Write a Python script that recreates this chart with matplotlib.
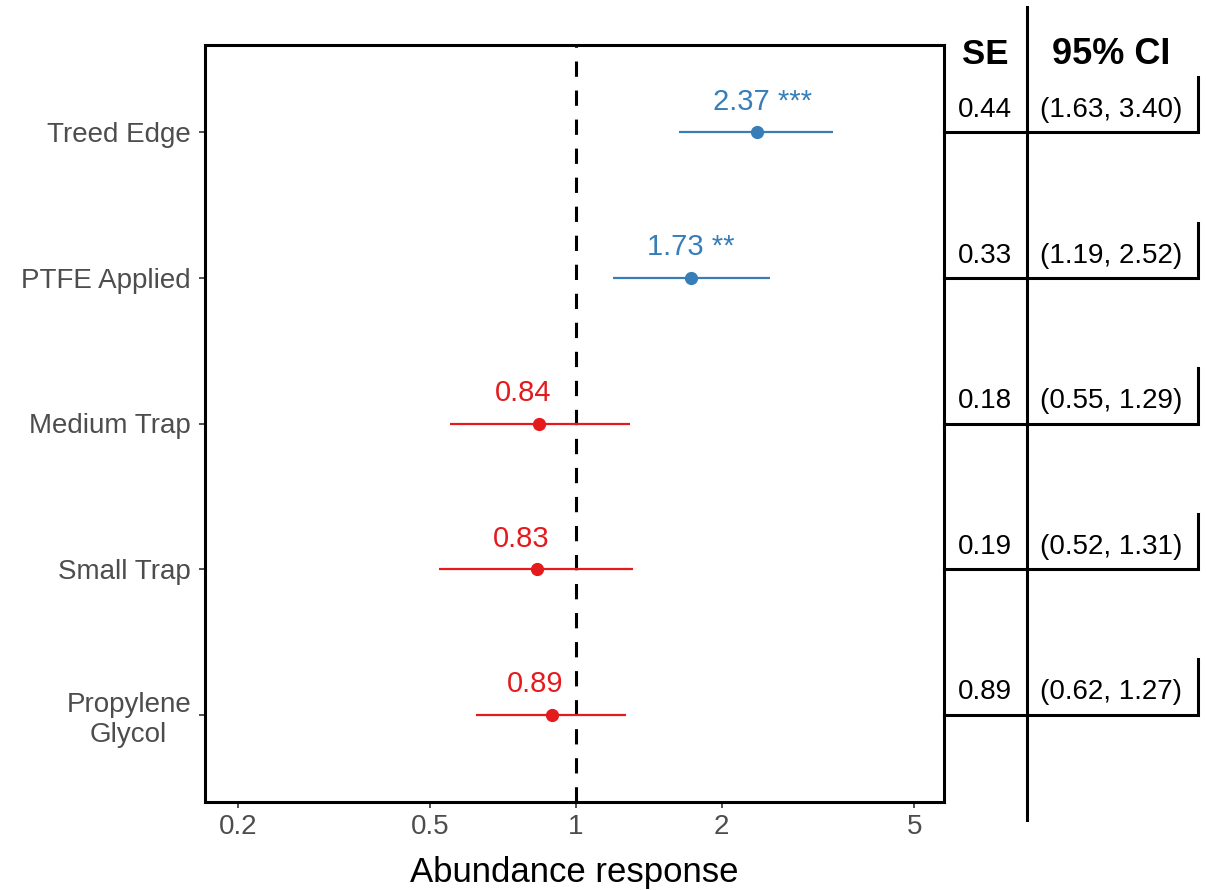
import numpy as np
import matplotlib
matplotlib.use('Agg')
import matplotlib.pyplot as plt
from matplotlib.ticker import NullLocator

plt.rcParams['font.family'] = ['Liberation Sans', 'DejaVu Sans']

# model terms, top to bottom
terms = ['Treed Edge', 'PTFE Applied', 'Medium Trap', 'Small Trap', 'Propylene\nGlycol']
estimate = [2.37, 1.73, 0.84, 0.83, 0.89]
ci_low = [1.63, 1.19, 0.55, 0.52, 0.62]
ci_high = [3.40, 2.52, 1.29, 1.31, 1.27]
se = [0.44, 0.33, 0.18, 0.19, 0.89]
stars = ['***', '**', '', '', '']

x_ticks = [0.2, 0.5, 1, 2, 5]
x_ticklabels = ['0.2', '0.5', '1', '2', '5']

blue = '#377EB8'
red = '#E41A1C'

W, H = 1206, 890
fig = plt.figure(figsize=(W / 100, H / 100), dpi=100)
ax = fig.add_axes([205 / W, 88 / H, 739 / W, 757 / H])

ypos = np.arange(len(terms))[::-1] + 1

ax.axvline(1, color='black', lw=2.2, ls=(0, (5, 4.5)), zorder=1)

for y, est, lo, hi, s in zip(ypos, estimate, ci_low, ci_high, stars):
    col = blue if est > 1 else red
    ax.plot([lo, hi], [y, y], color=col, lw=1.6, solid_capstyle='butt', zorder=2)
    ax.plot(est, y, 'o', color=col, ms=8.5, zorder=3)
    lab = f'{est:.2f}' + (' ' + s if s else '')
    ax.annotate(lab, (est, y), xytext=(-32, 22), textcoords='offset points',
                ha='left', va='center', color=col, fontsize=21)

ax.set_xscale('log')
ax.set_xlim(0.171, 5.76)
ax.set_ylim(0.4, 5.6)
ax.set_xticks(x_ticks)
ax.set_xticklabels(x_ticklabels)
ax.xaxis.set_minor_locator(NullLocator())
ax.set_yticks(ypos)
ax.set_yticklabels(terms, multialignment='center')
ax.tick_params(axis='both', length=4, width=1.2, color='#333333',
               labelcolor='#4D4D4D', labelsize=20, pad=5)
ax.tick_params(axis='y', pad=6)
ax.set_xlabel('Abundance response', fontsize=25, labelpad=11)
for sp in ax.spines.values():
    sp.set_linewidth(2.2)
    sp.set_color('black')

# side table with SE and confidence intervals
tax = fig.add_axes([944 / W, 88 / H, (W - 944) / W, 757 / H])
tax.set_xlim(0, 1)
tax.set_ylim(ax.get_ylim())
tax.axis('off')

x_se, x_ci, x_div, x_end = 0.156, 0.637, 0.317, 0.969
tax.plot([x_div, x_div], [-0.024, 1.05], transform=tax.transAxes,
         color='black', lw=2.2, clip_on=False)
tax.text(x_se, 0.987, 'SE', transform=tax.transAxes, ha='center', va='center',
         fontsize=25, fontweight='bold')
tax.text(x_ci, 0.987, '95% CI', transform=tax.transAxes, ha='center', va='center',
         fontsize=26, fontweight='bold')

for y, s, lo, hi in zip(ypos, se, ci_low, ci_high):
    tax.plot([0, x_end, x_end], [y, y, y + 0.38], color='black', lw=2.2,
             solid_joinstyle='miter', clip_on=False)
    tax.annotate(f'{s:.2f}', (x_se, y), xytext=(0, 16), textcoords='offset points',
                 ha='center', va='center', fontsize=20)
    tax.annotate(f'({lo:.2f}, {hi:.2f})', (x_ci, y), xytext=(0, 16),
                 textcoords='offset points', ha='center', va='center', fontsize=20)

fig.savefig('out.png', dpi=100)
